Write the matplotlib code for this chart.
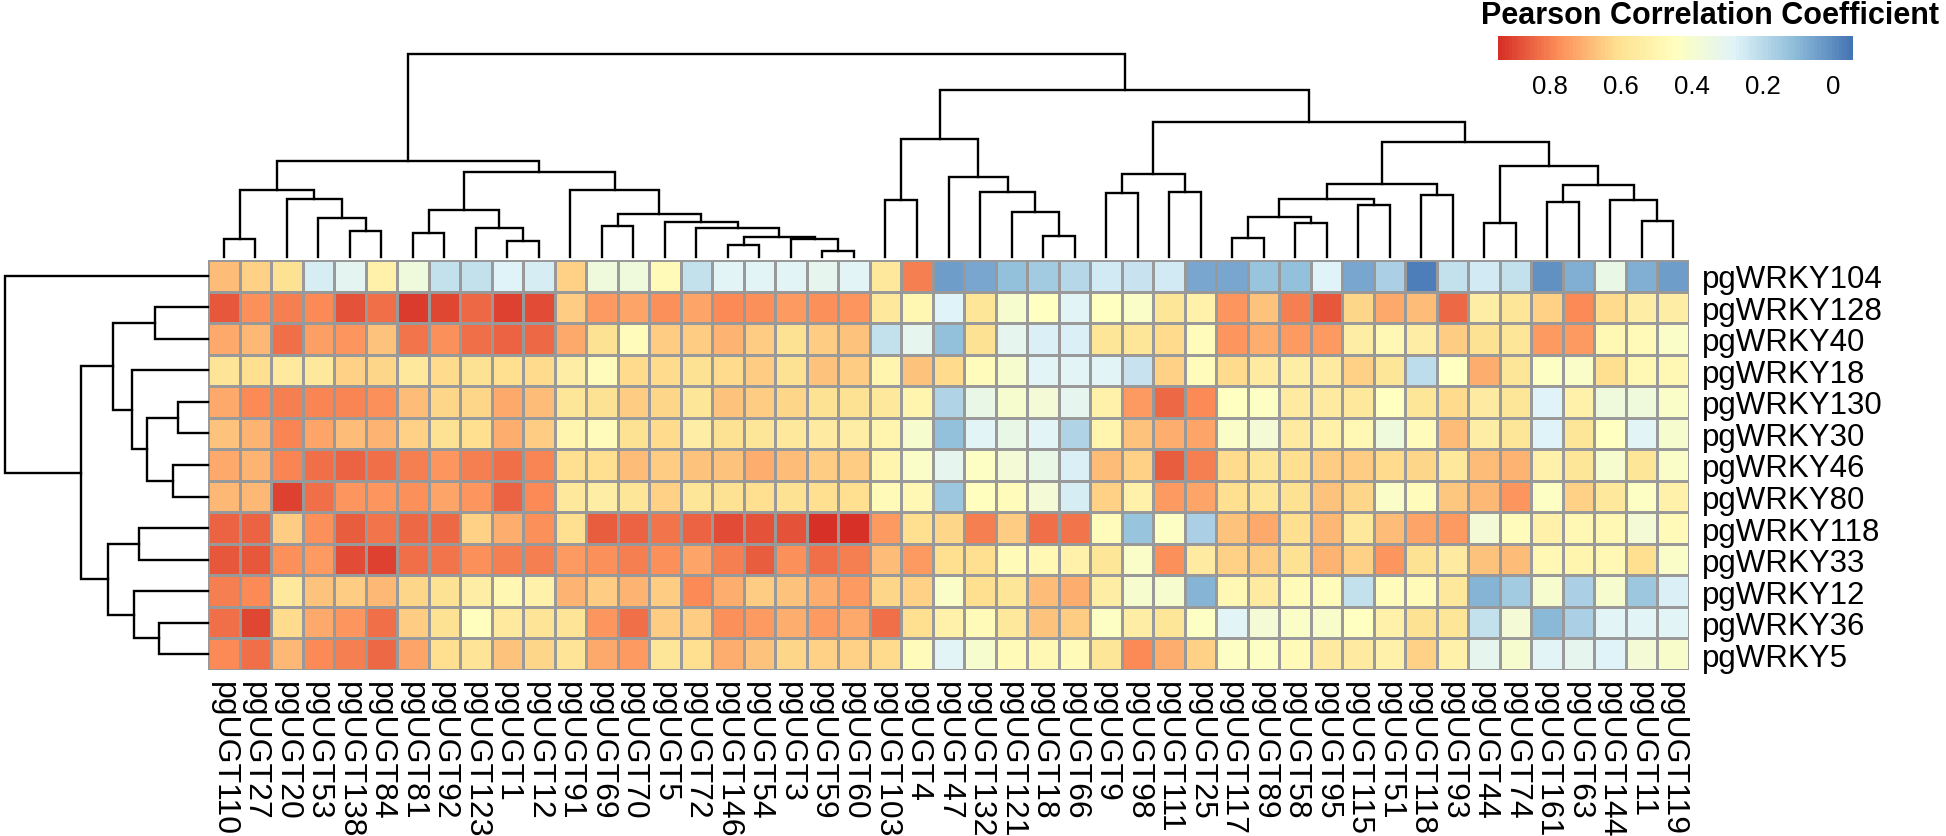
import numpy as np
import matplotlib
matplotlib.use("Agg")
import matplotlib.pyplot as plt
from matplotlib.colors import LinearSegmentedColormap, Normalize
from matplotlib.cm import ScalarMappable

plt.rcParams["font.family"] = ["Liberation Sans", "DejaVu Sans"]

ROW_LABELS = ["pgWRKY104", "pgWRKY128", "pgWRKY40", "pgWRKY18", "pgWRKY130",
              "pgWRKY30", "pgWRKY46", "pgWRKY80", "pgWRKY118", "pgWRKY33",
              "pgWRKY12", "pgWRKY36", "pgWRKY5"]
COL_LABELS = ["pgUGT110", "pgUGT27", "pgUGT20", "pgUGT53", "pgUGT138", "pgUGT84",
              "pgUGT81", "pgUGT92", "pgUGT123", "pgUGT1", "pgUGT12", "pgUGT91",
              "pgUGT69", "pgUGT70", "pgUGT5", "pgUGT72", "pgUGT146", "pgUGT54",
              "pgUGT3", "pgUGT59", "pgUGT60", "pgUGT103", "pgUGT4", "pgUGT47",
              "pgUGT132", "pgUGT121", "pgUGT18", "pgUGT66", "pgUGT9", "pgUGT98",
              "pgUGT111", "pgUGT25", "pgUGT117", "pgUGT89", "pgUGT58", "pgUGT95",
              "pgUGT115", "pgUGT51", "pgUGT118", "pgUGT93", "pgUGT44", "pgUGT74",
              "pgUGT161", "pgUGT63", "pgUGT144", "pgUGT11", "pgUGT119"]

# correlation values, one list per WRKY row (in display order)
wrky104 = [0.68, 0.64, 0.60, 0.26, 0.30, 0.52, 0.36, 0.22, 0.22, 0.28, 0.26, 0.64,
           0.36, 0.36, 0.47, 0.22, 0.29, 0.29, 0.29, 0.31, 0.29, 0.57, 0.80,
           0.04, 0.06, 0.12, 0.15, 0.19, 0.25, 0.23, 0.25, 0.06, 0.06, 0.13, 0.12,
           0.28, 0.06, 0.17, -0.03, 0.22, 0.25, 0.22, 0.01, 0.08, 0.33, 0.08, 0.04]
wrky128 = [0.87, 0.77, 0.80, 0.78, 0.88, 0.83, 0.92, 0.90, 0.84, 0.91, 0.89, 0.65,
           0.75, 0.73, 0.77, 0.73, 0.78, 0.77, 0.75, 0.77, 0.76, 0.57, 0.49,
           0.28, 0.58, 0.40, 0.44, 0.29, 0.44, 0.42, 0.58, 0.52, 0.76, 0.67, 0.80,
           0.87, 0.63, 0.72, 0.68, 0.84, 0.54, 0.58, 0.64, 0.78, 0.62, 0.54, 0.54]
wrky40 = [0.72, 0.69, 0.83, 0.74, 0.76, 0.67, 0.82, 0.77, 0.83, 0.85, 0.84, 0.72,
          0.60, 0.46, 0.65, 0.65, 0.70, 0.65, 0.60, 0.65, 0.67, 0.22, 0.31,
          0.12, 0.60, 0.31, 0.27, 0.27, 0.58, 0.58, 0.62, 0.46, 0.76, 0.71, 0.75,
          0.75, 0.54, 0.48, 0.54, 0.65, 0.60, 0.58, 0.75, 0.75, 0.48, 0.47, 0.42]
wrky18 = [0.59, 0.61, 0.56, 0.57, 0.64, 0.63, 0.57, 0.62, 0.60, 0.61, 0.62, 0.54,
          0.46, 0.62, 0.62, 0.60, 0.62, 0.65, 0.60, 0.67, 0.65, 0.50, 0.67,
          0.62, 0.46, 0.40, 0.29, 0.29, 0.29, 0.23, 0.64, 0.46, 0.62, 0.55, 0.54,
          0.55, 0.64, 0.58, 0.21, 0.44, 0.71, 0.58, 0.43, 0.42, 0.61, 0.48, 0.48]
wrky130 = [0.72, 0.78, 0.80, 0.79, 0.79, 0.77, 0.68, 0.63, 0.63, 0.72, 0.68, 0.58,
           0.60, 0.65, 0.63, 0.58, 0.67, 0.65, 0.63, 0.60, 0.60, 0.57, 0.50,
           0.18, 0.33, 0.40, 0.38, 0.31, 0.52, 0.75, 0.84, 0.78, 0.44, 0.43, 0.55,
           0.55, 0.57, 0.44, 0.58, 0.62, 0.55, 0.58, 0.28, 0.52, 0.36, 0.36, 0.42]
wrky30 = [0.67, 0.70, 0.79, 0.73, 0.68, 0.70, 0.64, 0.60, 0.61, 0.71, 0.65, 0.50,
          0.46, 0.60, 0.62, 0.54, 0.60, 0.58, 0.57, 0.55, 0.54, 0.50, 0.40,
          0.12, 0.29, 0.33, 0.29, 0.18, 0.50, 0.67, 0.71, 0.73, 0.42, 0.38, 0.55,
          0.52, 0.48, 0.36, 0.46, 0.68, 0.54, 0.58, 0.28, 0.58, 0.44, 0.29, 0.40]
wrky46 = [0.72, 0.70, 0.79, 0.83, 0.85, 0.83, 0.80, 0.76, 0.80, 0.83, 0.79, 0.61,
          0.61, 0.68, 0.65, 0.67, 0.67, 0.71, 0.68, 0.65, 0.65, 0.50, 0.42,
          0.31, 0.43, 0.38, 0.33, 0.27, 0.68, 0.64, 0.86, 0.80, 0.62, 0.58, 0.61,
          0.65, 0.65, 0.62, 0.63, 0.57, 0.68, 0.70, 0.52, 0.58, 0.40, 0.58, 0.42]
wrky80 = [0.69, 0.69, 0.91, 0.83, 0.76, 0.76, 0.77, 0.73, 0.76, 0.85, 0.78, 0.57,
          0.54, 0.58, 0.64, 0.58, 0.60, 0.61, 0.60, 0.61, 0.61, 0.47, 0.48,
          0.14, 0.45, 0.46, 0.38, 0.26, 0.64, 0.52, 0.75, 0.73, 0.61, 0.58, 0.60,
          0.67, 0.63, 0.42, 0.46, 0.66, 0.69, 0.76, 0.43, 0.64, 0.57, 0.43, 0.52]
wrky118 = [0.85, 0.85, 0.65, 0.77, 0.86, 0.82, 0.84, 0.84, 0.64, 0.71, 0.77, 0.61,
           0.86, 0.85, 0.82, 0.85, 0.89, 0.88, 0.88, 0.94, 0.94, 0.75, 0.61,
           0.63, 0.80, 0.65, 0.83, 0.82, 0.46, 0.13, 0.43, 0.17, 0.67, 0.72, 0.61,
           0.69, 0.57, 0.68, 0.73, 0.75, 0.38, 0.46, 0.52, 0.48, 0.48, 0.38, 0.47]
wrky33 = [0.87, 0.87, 0.77, 0.75, 0.89, 0.91, 0.83, 0.82, 0.77, 0.80, 0.80, 0.75,
          0.77, 0.80, 0.77, 0.73, 0.80, 0.86, 0.77, 0.83, 0.80, 0.68, 0.75,
          0.61, 0.61, 0.47, 0.48, 0.52, 0.58, 0.42, 0.77, 0.55, 0.64, 0.65, 0.60,
          0.70, 0.64, 0.76, 0.60, 0.55, 0.67, 0.68, 0.48, 0.50, 0.48, 0.61, 0.42]
wrky12 = [0.80, 0.78, 0.57, 0.67, 0.65, 0.69, 0.63, 0.60, 0.54, 0.49, 0.52, 0.70,
          0.65, 0.70, 0.65, 0.78, 0.71, 0.65, 0.67, 0.71, 0.75, 0.63, 0.64,
          0.42, 0.61, 0.58, 0.68, 0.71, 0.54, 0.40, 0.40, 0.09, 0.48, 0.55, 0.47,
          0.46, 0.22, 0.46, 0.47, 0.57, 0.09, 0.15, 0.40, 0.17, 0.40, 0.14, 0.27]
wrky36 = [0.83, 0.90, 0.62, 0.72, 0.76, 0.83, 0.65, 0.60, 0.45, 0.56, 0.59, 0.59,
          0.76, 0.83, 0.65, 0.65, 0.77, 0.75, 0.71, 0.75, 0.72, 0.83, 0.61,
          0.52, 0.47, 0.57, 0.67, 0.65, 0.43, 0.54, 0.58, 0.43, 0.29, 0.38, 0.42,
          0.41, 0.44, 0.52, 0.60, 0.58, 0.22, 0.38, 0.10, 0.17, 0.29, 0.29, 0.29]
wrky5 = [0.78, 0.83, 0.69, 0.78, 0.80, 0.84, 0.73, 0.61, 0.59, 0.67, 0.63, 0.59,
         0.72, 0.75, 0.58, 0.61, 0.71, 0.67, 0.63, 0.64, 0.64, 0.62, 0.46,
         0.29, 0.40, 0.47, 0.48, 0.47, 0.58, 0.78, 0.71, 0.64, 0.43, 0.43, 0.47,
         0.55, 0.55, 0.52, 0.64, 0.52, 0.31, 0.40, 0.29, 0.31, 0.28, 0.38, 0.41]

# hierarchical merges (a, b, height) in scipy-linkage style;
# leaf ids are display positions, merged clusters get ids n, n+1, ...
COL_LINKAGE = [
    (0, 1, 18), (4, 5, 25.7), (3, 48, 39), (2, 49, 57.7), (47, 50, 67),
    (6, 7, 23.7), (9, 10, 16.3), (8, 53, 28.7), (52, 54, 47.3),
    (12, 13, 30.7), (16, 17, 12.3), (19, 20, 6.3), (18, 58, 18),
    (57, 59, 19.7), (15, 60, 28.7), (14, 61, 35.3), (56, 62, 43),
    (11, 63, 67), (55, 64, 85.3), (51, 65, 96.3),
    (21, 22, 57), (26, 27, 21.3), (25, 68, 45.3), (24, 69, 65.3),
    (23, 70, 80.3), (67, 71, 118),
    (28, 29, 63.7), (30, 31, 65.3), (73, 74, 82.7),
    (32, 33, 19), (34, 35, 34), (76, 77, 39.7), (36, 37, 52), (78, 79, 58),
    (38, 39, 62), (80, 81, 72.7), (40, 41, 33.7), (42, 43, 54.7),
    (45, 46, 36.3), (44, 85, 57), (84, 86, 72), (83, 87, 91.3),
    (82, 88, 115.3), (75, 89, 135.3), (72, 90, 167.3), (66, 91, 203),
]
ROW_LINKAGE = [
    (4, 5, 29.7), (6, 7, 34.7), (13, 14, 61.3), (3, 15, 76), (1, 2, 53),
    (17, 16, 94.7), (11, 12, 48.7), (10, 19, 73.7), (8, 9, 69.3),
    (21, 20, 100.3), (18, 22, 127), (0, 23, 203),
]

corr = np.array([wrky104, wrky128, wrky40, wrky18, wrky130, wrky30, wrky46,
                 wrky80, wrky118, wrky33, wrky12, wrky36, wrky5])
n_rows, n_cols = corr.shape


def dendro_segments(linkage, n):
    pos = {i: i + 0.5 for i in range(n)}
    hgt = {i: 0.0 for i in range(n)}
    segs = []
    for k, (a, b, h) in enumerate(linkage):
        segs.append(([pos[a], pos[a], pos[b], pos[b]], [hgt[a], h, h, hgt[b]]))
        pos[n + k] = (pos[a] + pos[b]) / 2.
        hgt[n + k] = h
    return segs


W, H = 1946., 837.
fig = plt.figure(figsize=(W / 100, H / 100), dpi=100)

# pheatmap default palette
cmap = LinearSegmentedColormap.from_list(
    "rdylbu", ["#4575B4", "#91BFDB", "#E0F3F8", "#FFFFBF",
               "#FEE090", "#FC8D59", "#D73027"], N=100)
norm = Normalize(vmin=-0.055, vmax=0.948)

hx0, hx1, hy0, hy1 = 208, 1689, 261, 671
ax = fig.add_axes([hx0 / W, 1 - hy1 / H, (hx1 - hx0) / W, (hy1 - hy0) / H])
ax.pcolormesh(np.arange(n_cols + 1), np.arange(n_rows + 1), corr, cmap=cmap,
              norm=norm, edgecolors="#999999", linewidth=2.0)
ax.set_xlim(0, n_cols)
ax.set_ylim(n_rows, 0)
for s in ax.spines.values():
    s.set_visible(False)
ax.yaxis.tick_right()
ax.set_yticks(np.arange(n_rows) + 0.5)
ax.set_yticklabels(ROW_LABELS, fontsize=22.5)
ax.set_xticks(np.arange(n_cols) + 0.5)
ax.set_xticklabels(COL_LABELS, fontsize=23, rotation=270)
ax.tick_params(axis="y", length=0, pad=9)
ax.tick_params(axis="x", length=0, pad=8)

# column dendrogram
axt = fig.add_axes([hx0 / W, 1 - 258 / H, (hx1 - hx0) / W, (258 - 55) / H])
for xs, ys in dendro_segments(COL_LINKAGE, n_cols):
    axt.plot(xs, ys, color="black", lw=1.7, clip_on=False,
             solid_joinstyle="miter")
axt.set_xlim(0, n_cols)
axt.set_ylim(0, 203)
axt.axis("off")

# row dendrogram
axl = fig.add_axes([4 / W, 1 - hy1 / H, (hx0 - 4) / W, (hy1 - hy0) / H])
for xs, ys in dendro_segments(ROW_LINKAGE, n_rows):
    axl.plot(ys, xs, color="black", lw=1.7, clip_on=False,
             solid_joinstyle="miter")
axl.set_ylim(n_rows, 0)
axl.set_xlim(204, 0)
axl.axis("off")

# colour key
cax = fig.add_axes([1498 / W, 1 - 61 / H, 355 / W, 24 / H])
cb = fig.colorbar(ScalarMappable(norm=norm, cmap=cmap), cax=cax,
                  orientation="horizontal")
cax.invert_xaxis()
cb.outline.set_visible(False)
cb.set_ticks([0.8, 0.6, 0.4, 0.2, 0])
cb.set_ticklabels(["0.8", "0.6", "0.4", "0.2", "0"])
cax.tick_params(length=0, labelsize=18.5, pad=10)
fig.text(1710 / W, 1 - 16 / H, "Pearson Correlation Coefficient",
         fontsize=22, fontweight="bold", ha="center", va="center")

fig.savefig("out.png", dpi=100)
